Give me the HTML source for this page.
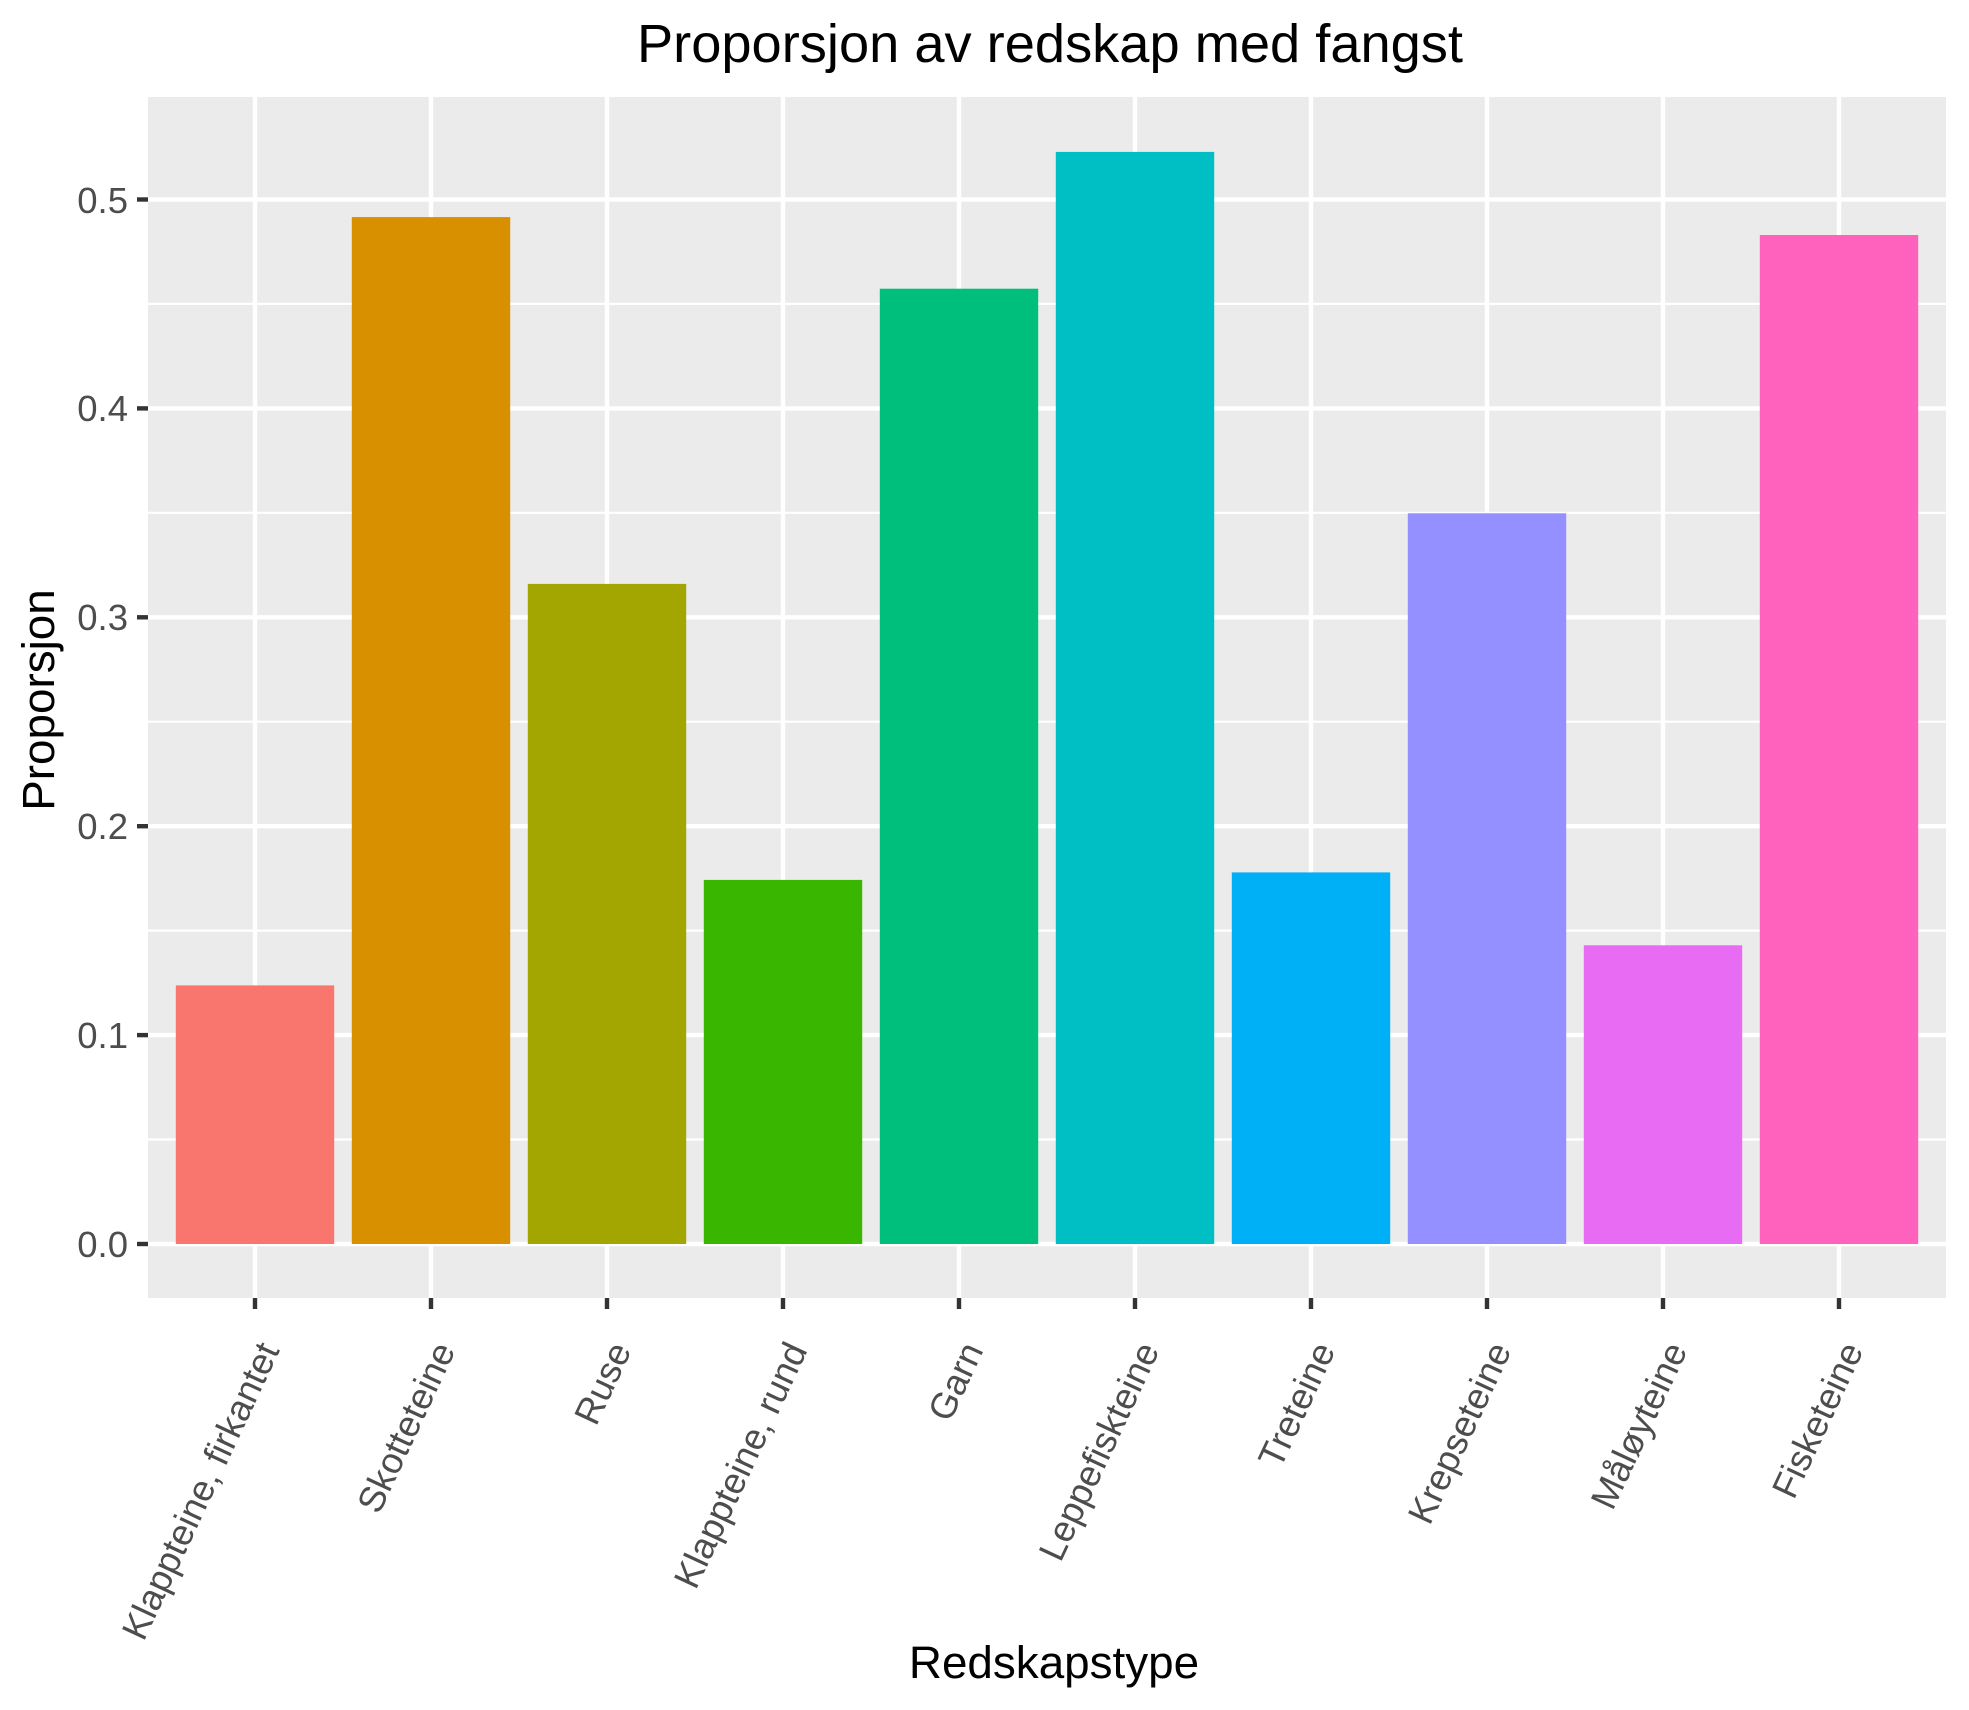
<!DOCTYPE html>
<html><head><meta charset="utf-8"><style>html,body{margin:0;padding:0;background:#fff}svg{display:block}</style></head>
<body>
<svg width="1969" height="1710" viewBox="0 0 1969 1710" xmlns="http://www.w3.org/2000/svg" font-family="Liberation Sans, Arial, sans-serif">
<rect x="148" y="97" width="1798" height="1201" fill="#EBEBEB"/>
<g stroke="#fff" stroke-width="2.2">
<line x1="148" x2="1946" y1="1139.5" y2="1139.5"/>
<line x1="148" x2="1946" y1="930.6" y2="930.6"/>
<line x1="148" x2="1946" y1="721.7" y2="721.7"/>
<line x1="148" x2="1946" y1="512.8" y2="512.8"/>
<line x1="148" x2="1946" y1="303.9" y2="303.9"/>
</g>
<g stroke="#fff" stroke-width="4.4">
<line x1="148" x2="1946" y1="1244" y2="1244"/>
<line x1="148" x2="1946" y1="1035.1" y2="1035.1"/>
<line x1="148" x2="1946" y1="826.2" y2="826.2"/>
<line x1="148" x2="1946" y1="617.3" y2="617.3"/>
<line x1="148" x2="1946" y1="408.4" y2="408.4"/>
<line x1="148" x2="1946" y1="199.5" y2="199.5"/>
<line x1="255" x2="255" y1="97" y2="1298"/>
<line x1="431" x2="431" y1="97" y2="1298"/>
<line x1="607" x2="607" y1="97" y2="1298"/>
<line x1="783" x2="783" y1="97" y2="1298"/>
<line x1="959" x2="959" y1="97" y2="1298"/>
<line x1="1135" x2="1135" y1="97" y2="1298"/>
<line x1="1311" x2="1311" y1="97" y2="1298"/>
<line x1="1487" x2="1487" y1="97" y2="1298"/>
<line x1="1663" x2="1663" y1="97" y2="1298"/>
<line x1="1839" x2="1839" y1="97" y2="1298"/>
</g>
<g>
<rect x="175.8" y="985.4" width="158.4" height="258.6" fill="#F8766D"/>
<rect x="351.8" y="217.1" width="158.4" height="1026.9" fill="#D89000"/>
<rect x="527.8" y="583.9" width="158.4" height="660.1" fill="#A3A500"/>
<rect x="703.8" y="879.9" width="158.4" height="364.1" fill="#39B600"/>
<rect x="879.8" y="288.7" width="158.4" height="955.3" fill="#00BF7D"/>
<rect x="1055.8" y="151.9" width="158.4" height="1092.1" fill="#00BFC4"/>
<rect x="1231.8" y="872.4" width="158.4" height="371.6" fill="#00B0F6"/>
<rect x="1407.8" y="513.3" width="158.4" height="730.7" fill="#9590FF"/>
<rect x="1583.8" y="945.3" width="158.4" height="298.7" fill="#E76BF3"/>
<rect x="1759.8" y="235.0" width="158.4" height="1009.0" fill="#FF62BC"/>
</g>
<g stroke="#333" stroke-width="4.4">
<line x1="137" x2="148" y1="1244" y2="1244"/>
<line x1="137" x2="148" y1="1035.1" y2="1035.1"/>
<line x1="137" x2="148" y1="826.2" y2="826.2"/>
<line x1="137" x2="148" y1="617.3" y2="617.3"/>
<line x1="137" x2="148" y1="408.4" y2="408.4"/>
<line x1="137" x2="148" y1="199.5" y2="199.5"/>
<line x1="255" x2="255" y1="1298" y2="1309"/>
<line x1="431" x2="431" y1="1298" y2="1309"/>
<line x1="607" x2="607" y1="1298" y2="1309"/>
<line x1="783" x2="783" y1="1298" y2="1309"/>
<line x1="959" x2="959" y1="1298" y2="1309"/>
<line x1="1135" x2="1135" y1="1298" y2="1309"/>
<line x1="1311" x2="1311" y1="1298" y2="1309"/>
<line x1="1487" x2="1487" y1="1298" y2="1309"/>
<line x1="1663" x2="1663" y1="1298" y2="1309"/>
<line x1="1839" x2="1839" y1="1298" y2="1309"/>
</g>
<g fill="#4D4D4D" font-size="36.5" text-anchor="end">
<text x="128" y="1257">0.0</text>
<text x="128" y="1048">0.1</text>
<text x="128" y="839">0.2</text>
<text x="128" y="630">0.3</text>
<text x="128" y="421">0.4</text>
<text x="128" y="213">0.5</text>
</g>
<g fill="#4D4D4D" font-size="36.5" text-anchor="end">
<text transform="translate(280,1350) rotate(-65)">Klappteine, firkantet</text>
<text transform="translate(456,1350) rotate(-65)">Skotteteine</text>
<text transform="translate(632,1350) rotate(-65)">Ruse</text>
<text transform="translate(808,1350) rotate(-65)">Klappteine, rund</text>
<text transform="translate(984,1350) rotate(-65)">Garn</text>
<text transform="translate(1160,1350) rotate(-65)">Leppefiskteine</text>
<text transform="translate(1336,1350) rotate(-65)">Treteine</text>
<text transform="translate(1512,1350) rotate(-65)">Krepseteine</text>
<text transform="translate(1688,1350) rotate(-65)">Måløyteine</text>
<text transform="translate(1864,1350) rotate(-65)">Fisketeine</text>
</g>
<text x="1054" y="1678" font-size="45.8" text-anchor="middle" fill="#000">Redskapstype</text>
<text transform="translate(54,700) rotate(-90)" font-size="45.8" text-anchor="middle" fill="#000">Proporsjon</text>
<text x="1050" y="62" font-size="54" text-anchor="middle" fill="#000" textLength="826" lengthAdjust="spacingAndGlyphs">Proporsjon av redskap med fangst</text>
</svg>
</body></html>
